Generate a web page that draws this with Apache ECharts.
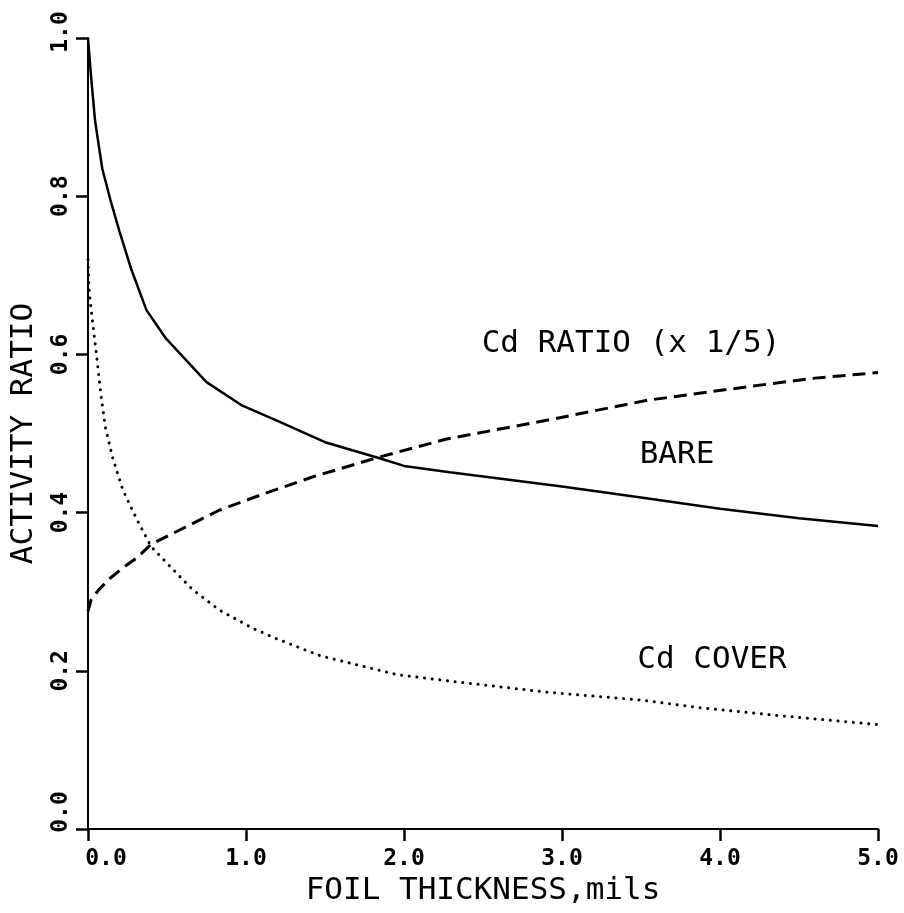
<!DOCTYPE html>
<html>
<head>
<meta charset="utf-8">
<title>Activity ratio vs foil thickness</title>
<script src="https://cdn.jsdelivr.net/npm/echarts@6/dist/echarts.min.js"></script>
<style>
  html, body { margin: 0; padding: 0; background: #fff; }
  #chart { width: 904px; height: 913px; }
</style>
</head>
<body>
<div id="chart"></div>
<script>
// Foil thickness (mils) and activity ratio for the three curves
var bareX = [0, 0.02, 0.045, 0.09, 0.145, 0.2, 0.275, 0.37, 0.49, 0.75, 0.97, 1.21, 1.5, 1.84, 2.0, 2.29, 3.0, 3.5, 4.0, 4.5, 5.0];
var bareY = [1.0, 0.95, 0.895, 0.835, 0.793, 0.755, 0.707, 0.656, 0.621, 0.565, 0.536, 0.515, 0.489, 0.469, 0.459, 0.451, 0.433, 0.419, 0.405, 0.393, 0.383];

var cdRatioX = [0, 0.02, 0.066, 0.14, 0.22, 0.31, 0.40, 0.58, 0.83, 1.13, 1.42, 1.84, 2.27, 2.91, 3.54, 4.17, 4.6, 5.0];
var cdRatioY = [0.275, 0.29, 0.302, 0.317, 0.33, 0.343, 0.36, 0.378, 0.403, 0.425, 0.445, 0.47, 0.493, 0.517, 0.542, 0.559, 0.570, 0.577];

var cdCoverX = [0, 0.005, 0.02, 0.05, 0.08, 0.11, 0.155, 0.22, 0.31, 0.40, 0.5, 0.66, 0.83, 1.05, 1.2, 1.47, 1.96, 2.29, 2.9, 3.5, 3.89, 4.39, 5.0];
var cdCoverY = [0.72, 0.685, 0.656, 0.606, 0.551, 0.508, 0.47, 0.429, 0.391, 0.357, 0.336, 0.303, 0.277, 0.253, 0.24, 0.219, 0.195, 0.187, 0.173, 0.163, 0.153, 0.143, 0.132];

var xTicks = [0, 1, 2, 3, 4, 5];
var yTicks = [0, 0.2, 0.4, 0.6, 0.8, 1.0];

var curveNames = ['BARE', 'Cd RATIO (x 1/5)', 'Cd COVER'];

function pairs(xs, ys) {
  return xs.map(function (x, i) { return [x, ys[i]]; });
}

var MONO = '"DejaVu Sans Mono", "Liberation Mono", monospace';
var INK = '#000';

var chart = echarts.init(document.getElementById('chart'), null, { renderer: 'canvas' });

chart.setOption({
  animation: false,
  backgroundColor: '#fff',
  grid: { left: 87, right: 26, top: 38, bottom: 84, containLabel: false },
  xAxis: {
    type: 'value',
    min: xTicks[0],
    max: xTicks[xTicks.length - 1],
    interval: 1,
    name: 'FOIL THICKNESS,mils',
    nameLocation: 'middle',
    nameGap: 42,
    nameTextStyle: { fontFamily: MONO, fontSize: 31, color: INK },
    axisLine: { lineStyle: { color: INK, width: 2 } },
    axisTick: { length: 12, lineStyle: { color: INK, width: 2.5 } },
    splitLine: { show: false },
    axisLabel: {
      margin: 19,
      fontFamily: MONO, fontSize: 23, fontWeight: 'bold', color: INK,
      formatter: function (v) {
        var t = v.toFixed(1);
        return v === 0 ? '{first|' + t + '}' : t;
      },
      rich: {
        first: { fontFamily: MONO, fontSize: 23, fontWeight: 'bold', color: INK, padding: [0, 0, 0, 36] }
      }
    }
  },
  yAxis: {
    type: 'value',
    min: yTicks[0],
    max: yTicks[yTicks.length - 1],
    interval: 0.2,
    name: 'ACTIVITY RATIO',
    nameLocation: 'middle',
    nameGap: 49,
    nameTextStyle: { fontFamily: MONO, fontSize: 31, color: INK },
    axisLine: { lineStyle: { color: INK, width: 2 } },
    axisTick: { length: 12, lineStyle: { color: INK, width: 2.5 } },
    splitLine: { show: false },
    axisLabel: {
      rotate: 90,
      margin: 15,
      fontFamily: MONO, fontSize: 23, fontWeight: 'bold', color: INK,
      formatter: function (v) {
        var t = v.toFixed(1);
        if (v === 0) return '{low|' + t + '}';
        if (v === 1) return '{high|' + t + '}';
        return t;
      },
      rich: {
        low: { fontFamily: MONO, fontSize: 23, fontWeight: 'bold', color: INK, padding: [0, 0, 0, 34] },
        high: { fontFamily: MONO, fontSize: 23, fontWeight: 'bold', color: INK, padding: [0, 0, 0, 12] }
      }
    }
  },
  series: [
    {
      name: curveNames[0],
      type: 'line',
      showSymbol: false,
      data: pairs(bareX, bareY),
      lineStyle: { color: INK, width: 2.5 }
    },
    {
      name: curveNames[1],
      type: 'line',
      showSymbol: false,
      data: pairs(cdRatioX, cdRatioY),
      lineStyle: { color: INK, width: 3, type: [13, 7] }
    },
    {
      name: curveNames[2],
      type: 'line',
      showSymbol: false,
      data: pairs(cdCoverX, cdCoverY),
      lineStyle: { color: INK, width: 3, type: [0.1, 7.6], cap: 'round' }
    }
  ],
  graphic: [
    { type: 'text', x: 631, y: 344, style: { text: curveNames[1], font: '31px ' + MONO, fill: INK, textAlign: 'center', textVerticalAlign: 'middle' } },
    { type: 'text', x: 677, y: 455, style: { text: curveNames[0], font: '31px ' + MONO, fill: INK, textAlign: 'center', textVerticalAlign: 'middle' } },
    { type: 'text', x: 712, y: 660, style: { text: curveNames[2], font: '31px ' + MONO, fill: INK, textAlign: 'center', textVerticalAlign: 'middle' } }
  ]
});
</script>
</body>
</html>
